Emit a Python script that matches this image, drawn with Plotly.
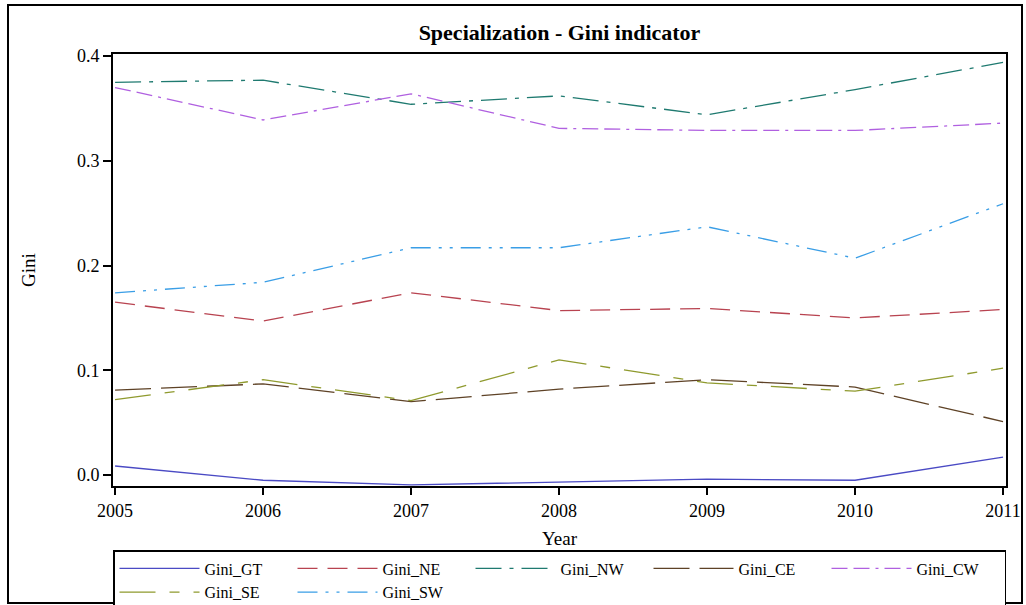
import plotly.graph_objects as go

years = [2005, 2006, 2007, 2008, 2009, 2010, 2011]
series_names = ["Gini_GT", "Gini_NE", "Gini_NW", "Gini_CE", "Gini_CW", "Gini_SE", "Gini_SW"]
gini_gt = [0.0086, -0.005, -0.0095, -0.007, -0.004, -0.005, 0.017]
gini_ne = [0.165, 0.147, 0.174, 0.157, 0.159, 0.150, 0.158]
gini_nw = [0.375, 0.377, 0.354, 0.362, 0.344, 0.368, 0.394]
gini_ce = [0.081, 0.087, 0.070, 0.082, 0.091, 0.084, 0.051]
gini_cw = [0.370, 0.339, 0.364, 0.331, 0.329, 0.329, 0.336]
gini_se = [0.072, 0.091, 0.071, 0.110, 0.088, 0.080, 0.102]
gini_sw = [0.174, 0.184, 0.217, 0.217, 0.237, 0.207, 0.259]
y_ticks = [0.0, 0.1, 0.2, 0.3, 0.4]

values = [gini_gt, gini_ne, gini_nw, gini_ce, gini_cw, gini_se, gini_sw]
colors = ["#4a4ac4", "#b84350", "#1f7a70", "#5e4226", "#b060e0", "#8f9a2e", "#3a9ee6"]
dashes = ["solid", "20px,10px", "26px,8px,4px,8px", "36px,10px",
          "16px,6px,16px,6px,3px,6px", "36px,14px,10px,14px", "20px,8px,3px,8px,3px,8px"]

fig = go.Figure()
for name, vals, c, d in zip(series_names, values, colors, dashes):
    fig.add_trace(go.Scatter(x=years, y=vals, name=name, mode="lines",
                             line=dict(color=c, width=1.3, dash=d)))

font_family = "Liberation Serif, Times New Roman, Times, serif"
fig.update_layout(
    width=1026, height=605,
    margin=dict(l=113, r=20, t=54, b=119, autoexpand=False),
    paper_bgcolor="white", plot_bgcolor="white",
    font=dict(family=font_family, size=18, color="black"),
    title=dict(text="<b>Specialization - Gini indicator</b>", x=559.5 / 1026,
               xanchor="center", y=1 - 32 / 605, yanchor="middle",
               font=dict(family=font_family, size=22, color="black")),
    showlegend=True,
    legend=dict(orientation="h", xref="container", yref="container",
                x=113 / 1026, xanchor="left", y=1 - 550 / 605, yanchor="top",
                bordercolor="black", borderwidth=1.5, entrywidth=83, entrywidthmode="pixels",
                font=dict(family=font_family, size=16), tracegroupgap=0,
                itemwidth=80),
)
fig.update_xaxes(range=[2004.986, 2011.02], tickvals=years, ticktext=[str(y) for y in years],
                 showgrid=False, zeroline=False, showline=True, linecolor="black", linewidth=2,
                 mirror=True, ticks="outside", ticklen=7, tickwidth=1.5, tickcolor="black",
                 title=dict(text="Year", font=dict(size=19), standoff=12),
                 tickfont=dict(size=18))
fig.update_yaxes(range=[-0.0105, 0.402], tickvals=y_ticks, ticktext=[f"{v:.1f}" for v in y_ticks],
                 showgrid=False, zeroline=False, showline=True, linecolor="black", linewidth=2,
                 mirror=True, ticks="outside", ticklen=8, tickwidth=1.5, tickcolor="black",
                 title=dict(text="Gini", font=dict(size=19), standoff=36),
                 tickfont=dict(size=18))

# outer frame around the whole graphic
pw, ph = 1026 - 113 - 20, 605 - 54 - 119
fig.add_shape(type="rect", xref="paper", yref="paper",
              x0=(8 - 113) / pw, x1=(1022 - 113) / pw,
              y0=(605 - 119 - 603) / ph, y1=(605 - 119 - 5) / ph,
              line=dict(color="black", width=2), fillcolor="rgba(0,0,0,0)", layer="below")

fig.write_html("out.html")
